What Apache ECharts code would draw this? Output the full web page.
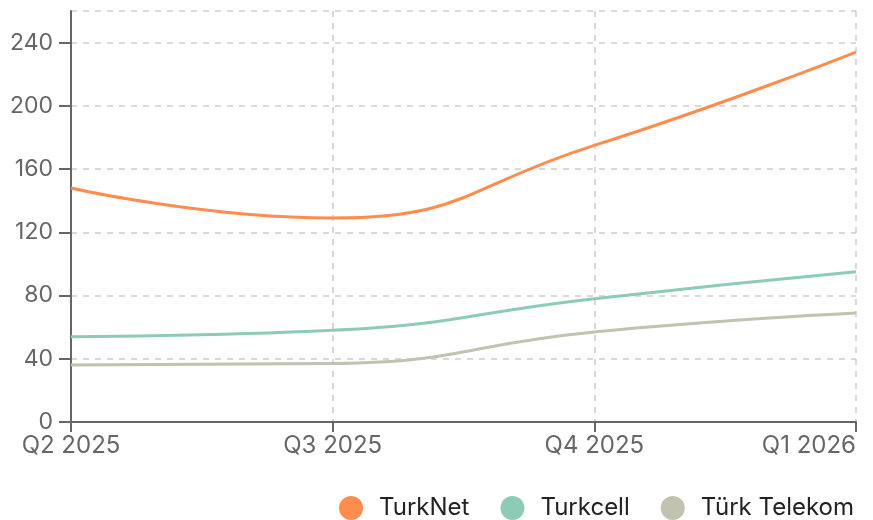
<!DOCTYPE html>
<html>
<head>
<meta charset="utf-8">
<script src="https://cdn.jsdelivr.net/npm/echarts@6/dist/echarts.min.js"></script>
<style>
  html, body { margin: 0; padding: 0; background: #fff; }
  #chart { width: 873px; height: 520px; }
</style>
</head>
<body>
<div id="chart"></div>
<script>
  // data
  var quarters = ['Q2 2025', 'Q3 2025', 'Q4 2025', 'Q1 2026'];
  var turkNet = [148, 129, 175, 234];
  var turkcell = [54, 58, 78, 95];
  var turkTelekom = [36, 37, 57, 69];

  var axisColor = '#666';
  var font = 'Inter, "Noto Sans", sans-serif';

  function line(name, data, color) {
    return {
      type: 'line',
      name: name,
      data: data,
      smooth: 0.5,
      symbol: 'none',
      lineStyle: { color: color, width: 3 },
      itemStyle: { color: color }
    };
  }

  var chart = echarts.init(document.getElementById('chart'));
  chart.setOption({
    animation: false,
    grid: { left: 71, right: 17, top: 11, bottom: 98, containLabel: false },
    xAxis: {
      type: 'category',
      data: quarters,
      boundaryGap: false,
      axisLine: { lineStyle: { color: axisColor, width: 2 } },
      axisTick: { show: true, length: 10, lineStyle: { color: axisColor, width: 2 } },
      axisLabel: { color: axisColor, fontSize: 24, fontFamily: font, margin: 12, alignMaxLabel: 'right' },
      splitLine: { show: true, lineStyle: { color: '#ccc', type: [6, 6], width: 1.5 } }
    },
    yAxis: {
      type: 'value',
      min: 0,
      max: 260,
      interval: 40,
      axisLine: { show: true, lineStyle: { color: axisColor, width: 2 } },
      axisTick: { show: true, length: 12, lineStyle: { color: axisColor, width: 2 } },
      axisLabel: { color: axisColor, fontSize: 23, fontFamily: font, margin: 18, showMaxLabel: false },
      splitLine: { show: true, lineStyle: { color: '#ccc', type: [6, 6], width: 1.5 } }
    },
    legend: {
      right: 14,
      top: 491,
      icon: 'circle',
      itemWidth: 24,
      itemHeight: 24,
      itemGap: 31,
      textStyle: { color: '#222', fontSize: 24, fontFamily: font, padding: [0, 0, 0, 11] },
      data: ['TurkNet', 'Turkcell', 'Türk Telekom']
    },
    series: [
      line('TurkNet', turkNet, '#fd8d4f'),
      line('Turkcell', turkcell, '#8dcbb7'),
      line('Türk Telekom', turkTelekom, '#c1c2af')
    ]
  });
</script>
</body>
</html>
